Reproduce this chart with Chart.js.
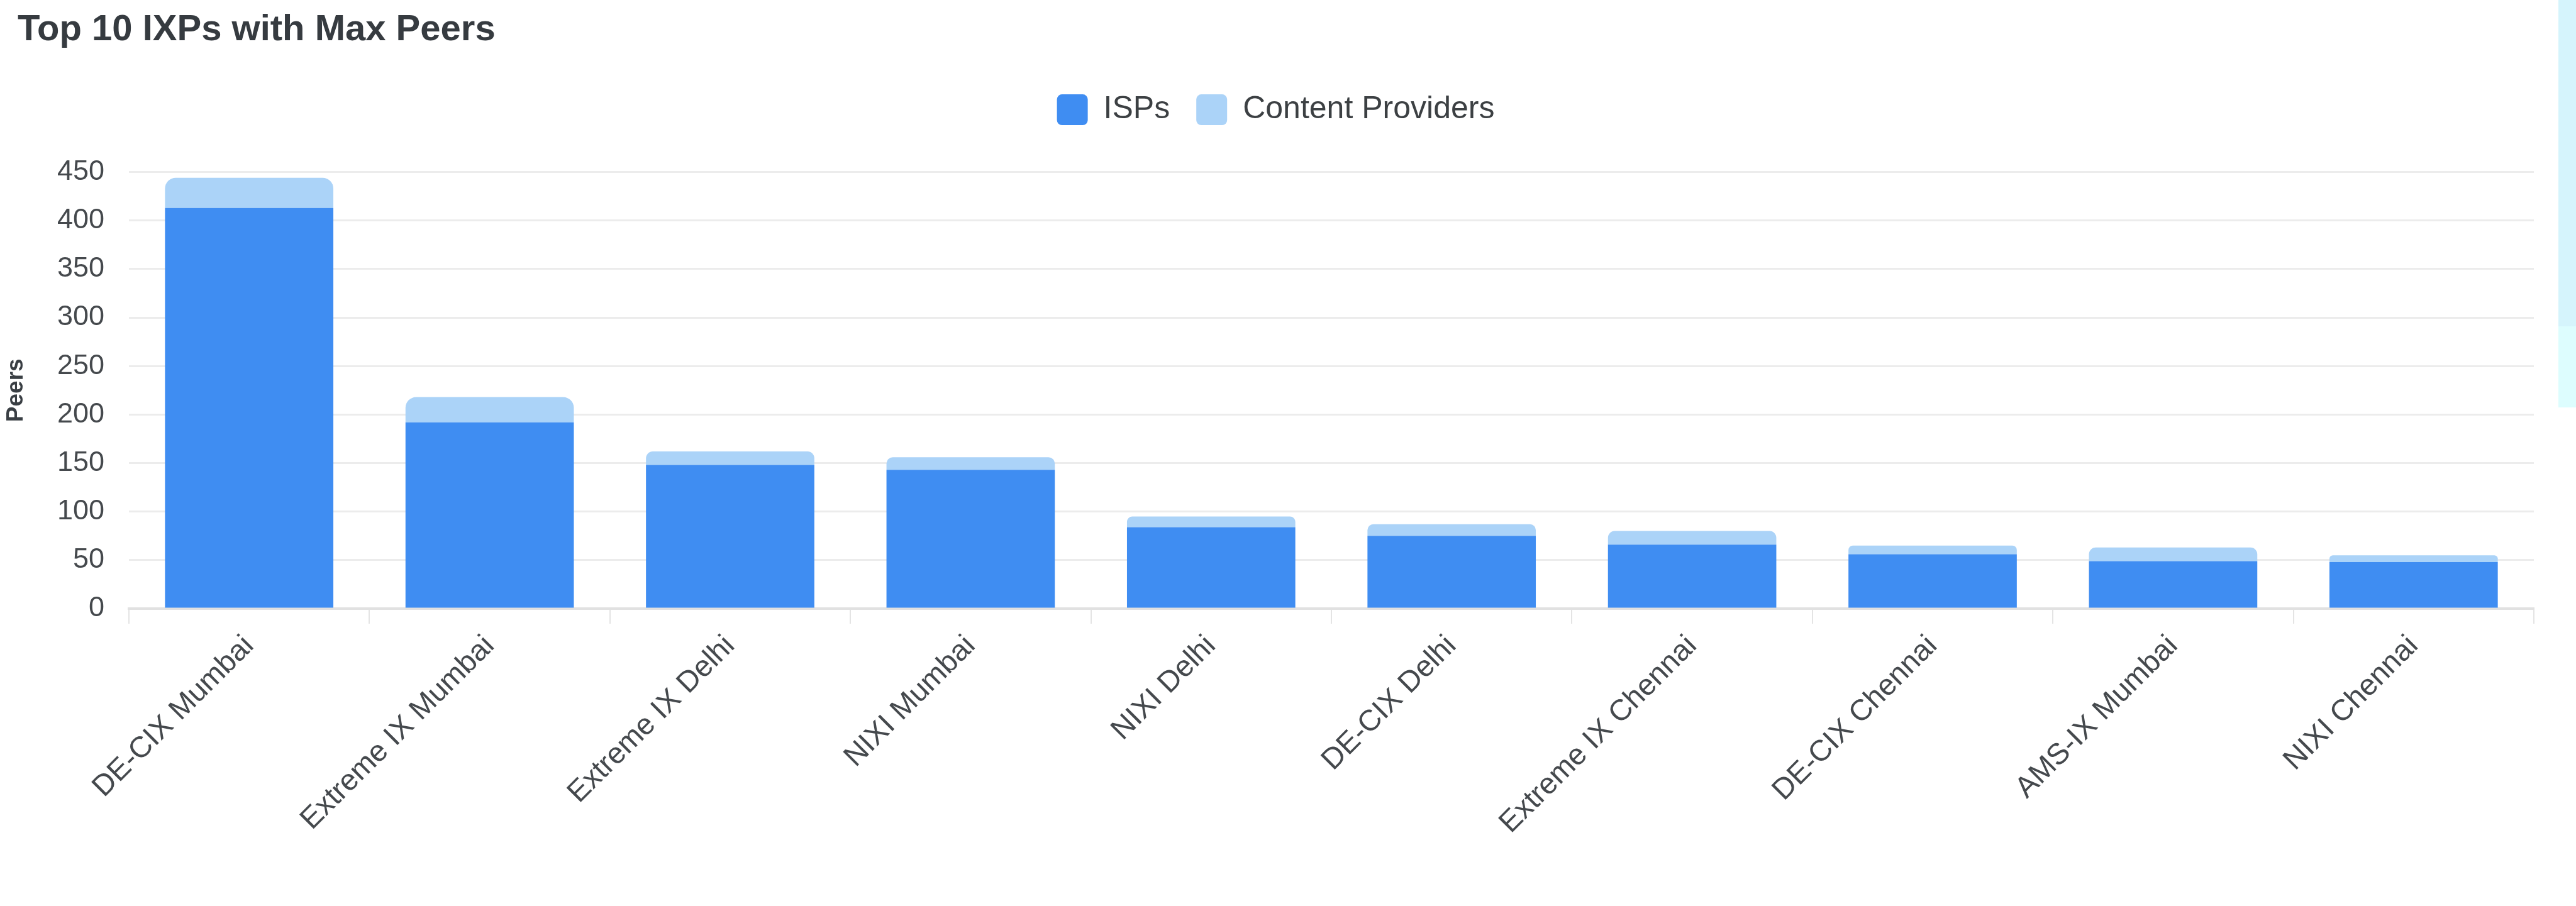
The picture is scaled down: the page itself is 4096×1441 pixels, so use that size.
<!DOCTYPE html>
<html>
<head>
<meta charset="utf-8">
<title>Top 10 IXPs with Max Peers</title>
<script src="https://cdn.jsdelivr.net/npm/chart.js@4.4.1/dist/chart.umd.min.js"></script>
<style>
  html, body { margin: 0; padding: 0; background: #fff; overflow: hidden; }
  #wrap { position: absolute; left: 0; top: 0; width: 4068px; height: 1441px; }
  .strip { position: absolute; left: 4068px; width: 28px; }
</style>
</head>
<body>
<div id="wrap"><canvas id="peersChart"></canvas></div>
<div class="strip" style="top:0;height:519px;background:#d5f4fc"></div>
<div class="strip" style="top:519px;height:129px;background:#ddfdfe"></div>
<script>
'use strict';

const ixps = [
  'DE-CIX Mumbai', 'Extreme IX Mumbai', 'Extreme IX Delhi', 'NIXI Mumbai', 'NIXI Delhi',
  'DE-CIX Delhi', 'Extreme IX Chennai', 'DE-CIX Chennai', 'AMS-IX Mumbai', 'NIXI Chennai'
];
const isps = [413, 192, 148, 143, 84, 75, 66, 56, 49, 48];
const contentProviders = [31, 26, 14, 13, 11, 12, 14, 9, 14, 7];
const peerTicks = [0, 50, 100, 150, 200, 250, 300, 350, 400, 450];

Chart.defaults.font.family = "'Liberation Sans', Arial, Helvetica, sans-serif";
Chart.defaults.color = '#42464a';

// extra room under the legend, before the plot starts
const legendSpacer = {
  id: 'legendSpacer',
  beforeUpdate(chart) {
    const legend = chart.legend;
    if (!legend || legend._spaced) return;
    const baseFit = legend.fit;
    legend.fit = function() {
      baseFit.call(this);
      this.height += 64;
    };
    legend._spaced = true;
  }
};

function displayChart() {
  const chartGraphics = {
    type: 'bar',
    data: {
      labels: ixps,
      datasets: [{
        label: 'ISPs',
        data: isps,
        backgroundColor: '#3f8df2',
        categoryPercentage: 0.8,
        barPercentage: 0.875
      },
      {
        label: 'Content Providers',
        data: contentProviders,
        backgroundColor: '#abd3f8',
        borderRadius: { topLeft: 17, topRight: 17, bottomLeft: 0, bottomRight: 0 },
        categoryPercentage: 0.8,
        barPercentage: 0.875
      }]
    },
    options: {
      responsive: true,
      maintainAspectRatio: false,
      animation: false,
      devicePixelRatio: 1,
      layout: {
        padding: { left: 28, right: 39, top: 0, bottom: 0 }
      },
      plugins: {
        title: {
          display: true,
          text: 'Top 10 IXPs with Max Peers',
          align: 'start',
          color: '#363b40',
          font: { size: 58, weight: 'bold', lineHeight: 1.2 },
          padding: { top: 13, bottom: 25 }
        },
        legend: {
          labels: {
            boxWidth: 49,
            boxHeight: 49,
            useBorderRadius: true,
            borderRadius: 8,
            padding: 42,
            color: '#3c4043',
            font: { size: 50 }
          }
        },
        tooltip: { enabled: false }
      },
      scales: {
        x: {
          stacked: true,
          grid: {
            display: true,
            drawOnChartArea: false,
            tickLength: 24,
            color: '#e4e4e4',
            lineWidth: 2
          },
          border: { display: true, color: '#e1e1e1', width: 4 },
          ticks: {
            minRotation: 45,
            maxRotation: 45,
            autoSkip: false,
            padding: 8,
            color: '#45494d',
            font: { size: 47 }
          },
          afterFit: function(scale) { scale.height = 473; }
        },
        y: {
          stacked: true,
          min: peerTicks[0],
          max: peerTicks[peerTicks.length - 1],
          ticks: {
            stepSize: peerTicks[1] - peerTicks[0],
            padding: 39,
            color: '#45494d',
            font: { size: 45 }
          },
          grid: { color: '#ececec', lineWidth: 3, drawTicks: false },
          border: { display: false },
          title: {
            display: true,
            text: 'Peers',
            color: '#3a3f44',
            font: { size: 37, weight: 'bold', lineHeight: 1.2 },
            padding: { top: -24, bottom: 0 }
          },
          afterFit: function(scale) { scale.width = 177; }
        }
      }
    },
    plugins: [legendSpacer]
  };
  let canvasChart = document.getElementById('peersChart').getContext('2d');
  const myChart = new Chart(canvasChart, chartGraphics);
}

displayChart();
</script>
</body>
</html>
